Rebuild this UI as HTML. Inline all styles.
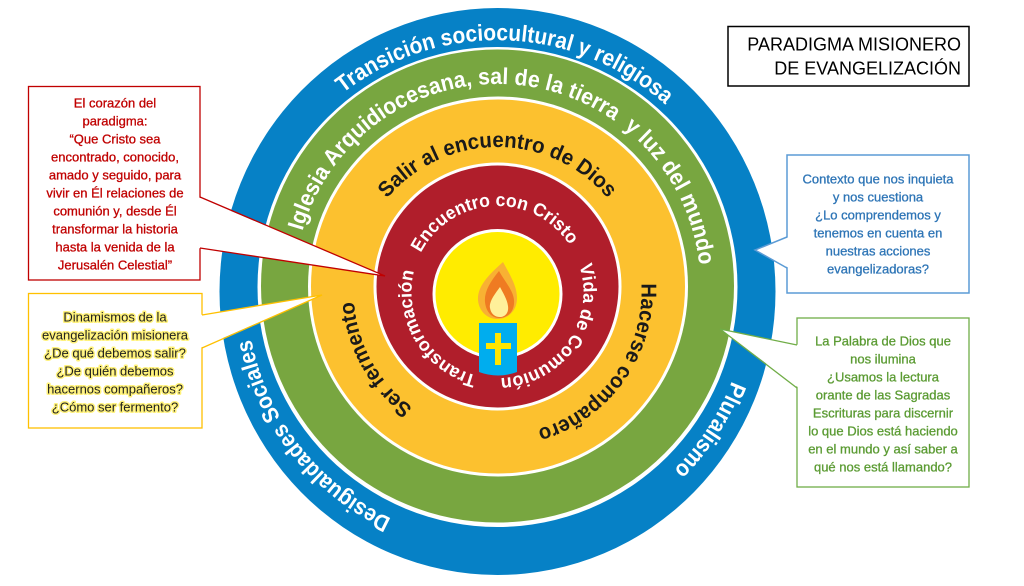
<!DOCTYPE html>
<html><head><meta charset="utf-8">
<style>
html,body{margin:0;padding:0;background:#fff;}
svg{display:block;}
.rt{font-family:"Liberation Sans",sans-serif;font-weight:bold;}
.bt{font-family:"Liberation Sans",sans-serif;font-size:13px;text-anchor:middle;}
.tt{font-family:"Liberation Sans",sans-serif;font-size:18px;text-anchor:end;fill:#000;}
</style></head><body>
<svg width="1024" height="586" viewBox="0 0 1024 586" xmlns="http://www.w3.org/2000/svg">
<defs>
<path id="pBlueTop" d="M343.00,93.20 A251,251 0 0 1 665.05,104.48"/>
<path id="pBlueL" d="M391.43,518.48 A251,251 0 0 1 251.12,338.89"/>
<path id="pBlueR" d="M731.83,380.96 A251,251 0 0 1 673.43,470.04"/>
<path id="pGreen" d="M302.36,231.05 A203,203 0 0 1 699.39,265.78"/>
<path id="pYTop" d="M387.19,198.44 A144,144 0 0 1 607.81,198.44"/>
<path id="pYR" d="M641.30,283.46 A144,144 0 0 1 537.19,429.42"/>
<path id="pYL" d="M412.86,407.5 A144,144 0 0 1 353.85,301.05"/>
<path id="pRTop" d="M420.87,252.96 A86,86 0 0 1 569.63,245.16"/>
<path id="pRR" d="M579.29,265.43 A86,86 0 0 1 500.5,377.95"/>
<path id="pRL" d="M476.70,375.44 A86,86 0 0 1 414.06,271.20"/>
</defs>

<!-- rings -->
<ellipse cx="497.5" cy="291.5" rx="278" ry="283.5" fill="#0681C6"/>
<circle cx="497.5" cy="287" r="240" fill="#fff"/>
<circle cx="497.5" cy="286" r="236.5" fill="#78A640"/>
<circle cx="498" cy="286.5" r="190" fill="#fff"/>
<circle cx="498" cy="286.5" r="187" fill="#FCC12F"/>
<circle cx="497.5" cy="286.5" r="124" fill="#fff"/>
<circle cx="497.5" cy="286.5" r="121" fill="#B01E2B"/>
<circle cx="497.5" cy="294" r="65" fill="#fff"/>
<circle cx="497.5" cy="294" r="62" fill="#FFEC00"/>

<!-- ring texts -->
<text class="rt" font-size="23" fill="#fff"><textPath href="#pBlueTop" textLength="350" lengthAdjust="spacingAndGlyphs">Transición sociocultural y religiosa</textPath></text>
<text class="rt" font-size="23" fill="#fff"><textPath href="#pBlueL" textLength="236" lengthAdjust="spacingAndGlyphs">Desigualdades Sociales</textPath></text>
<text class="rt" font-size="23" fill="#fff"><textPath href="#pBlueR" textLength="107" lengthAdjust="spacingAndGlyphs">Pluralismo</textPath></text>
<text class="rt" font-size="23" fill="#fff"><textPath href="#pGreen" textLength="559" lengthAdjust="spacingAndGlyphs">Iglesia Arquidiocesana, sal de la tierra&#160; y luz del mundo</textPath></text>
<text class="rt" font-size="21.5" fill="#1a1a1a"><textPath href="#pYTop" textLength="251" lengthAdjust="spacingAndGlyphs">Salir al encuentro de Dios</textPath></text>
<text class="rt" font-size="21.5" fill="#1a1a1a"><textPath href="#pYR" textLength="193" lengthAdjust="spacingAndGlyphs">Hacerse compañero</textPath></text>
<text class="rt" font-size="21.5" fill="#1a1a1a"><textPath href="#pYL" textLength="125" lengthAdjust="spacingAndGlyphs">Ser fermento</textPath></text>
<text class="rt" font-size="18.5" fill="#fff"><textPath href="#pRTop" textLength="180" lengthAdjust="spacingAndGlyphs">Encuentro con Cristo</textPath></text>
<text class="rt" font-size="18.5" fill="#fff"><textPath href="#pRR" textLength="159" lengthAdjust="spacingAndGlyphs">Vida de Comunión</textPath></text>
<text class="rt" font-size="18.5" fill="#fff"><textPath href="#pRL" textLength="135" lengthAdjust="spacingAndGlyphs">Transformación</textPath></text>

<!-- candle -->
<path d="M503,262 C492,272 477,285 478,300 C479,312 488,319 497,319 C508,319 517,311 517,298 C517,286 510,275 503,262 Z" fill="#F8B133"/>
<path d="M499,271 C490,282 484,292 485,302 C486,312 492,318 499,318 C508,318 515,311 514,300 C513,290 505,282 499,271 Z" fill="#EF7B22"/>
<path d="M500,287 C494,295 489,302 490,308 C491,314 495,317 500,317 C505,317 509,313 508,306 C507,299 503,293 500,287 Z" fill="#FFF09A"/>
<path d="M479,323 L517,323 L517,372 Q498,379 479,372 Z" fill="#00ADEE"/>
<rect x="495" y="333" width="6" height="32" fill="#FFE500"/>
<rect x="486" y="343" width="25" height="6" fill="#FFE500"/>

<!-- title -->
<rect x="728" y="26.5" width="241" height="59.5" fill="#fff" stroke="#000" stroke-width="1.5"/>
<text class="tt" x="961" y="50.5">PARADIGMA MISIONERO</text>
<text class="tt" x="961" y="74.5">DE EVANGELIZACIÓN</text>

<!-- red box -->
<rect x="28.5" y="86.5" width="171.5" height="193.5" fill="#fff" stroke="#C00000" stroke-width="1.3"/>
<polygon points="198,197 385,276 198,248" fill="#fff"/>
<polyline points="200,197 385,276 200,248" fill="none" stroke="#C00000" stroke-width="1.3"/>
<g class="bt" fill="#C00000" stroke="#C00000" stroke-width="0.3">
<text x="115" y="107.5">El corazón del</text>
<text x="115" y="125.5">paradigma:</text>
<text x="115" y="143.5">“Que Cristo sea</text>
<text x="115" y="161.5">encontrado, conocido,</text>
<text x="115" y="179.5">amado y seguido, para</text>
<text x="115" y="197.5">vivir en Él relaciones de</text>
<text x="115" y="215.5">comunión y, desde Él</text>
<text x="115" y="233.5">transformar la historia</text>
<text x="115" y="251.5">hasta la venida de la</text>
<text x="115" y="269.5">Jerusalén Celestial”</text>
</g>

<!-- yellow box -->
<rect x="28.5" y="293.5" width="173.5" height="134.5" fill="#fff" stroke="#FFC000" stroke-width="1.3"/>
<polygon points="200,315 322,295 200,348" fill="#fff"/>
<polyline points="202,315 322,295 202,348" fill="none" stroke="#FFC000" stroke-width="1.3"/>
<g class="bt" fill="#1f1f1f" stroke="#FFF27A" stroke-width="3" paint-order="stroke" stroke-linejoin="round">
<text x="115" y="321.5">Dinamismos de la</text>
<text x="115" y="339.5">evangelización misionera</text>
<text x="115" y="357.5">¿De qué debemos salir?</text>
<text x="115" y="375.5">¿De quién debemos</text>
<text x="115" y="393.5">hacernos compañeros?</text>
<text x="115" y="411.5">¿Cómo ser fermento?</text>
</g>

<!-- blue box -->
<rect x="787" y="155" width="182" height="138" fill="#fff" stroke="#5B9BD5" stroke-width="1.5"/>
<polygon points="789,237 755,250 789,268" fill="#fff"/>
<polyline points="787,237 755,250 787,268" fill="none" stroke="#5B9BD5" stroke-width="1.5"/>
<g class="bt" fill="#2E75B6" stroke="#2E75B6" stroke-width="0.3">
<text x="878" y="183.5">Contexto que nos inquieta</text>
<text x="878" y="201.5">y nos cuestiona</text>
<text x="878" y="219.5">¿Lo comprendemos y</text>
<text x="878" y="237.5">tenemos en cuenta en</text>
<text x="878" y="255.5">nuestras acciones</text>
<text x="878" y="273.5">evangelizadoras?</text>
</g>

<!-- green box -->
<rect x="797" y="318" width="172" height="169" fill="#fff" stroke="#70AD47" stroke-width="1.3"/>
<polygon points="799,345 720,329 799,388" fill="#fff"/>
<polyline points="797,345 720,329 797,388" fill="none" stroke="#70AD47" stroke-width="1.3"/>
<g class="bt" fill="#5B9B33" stroke="#5B9B33" stroke-width="0.3">
<text x="883" y="345.5">La Palabra de Dios que</text>
<text x="883" y="363.5">nos ilumina</text>
<text x="883" y="381.5">¿Usamos la lectura</text>
<text x="883" y="399.5">orante de las Sagradas</text>
<text x="883" y="417.5">Escrituras para discernir</text>
<text x="883" y="435.5">lo que Dios está haciendo</text>
<text x="883" y="453.5">en el mundo y así saber a</text>
<text x="883" y="471.5">qué nos está llamando?</text>
</g>
</svg>
</body></html>
